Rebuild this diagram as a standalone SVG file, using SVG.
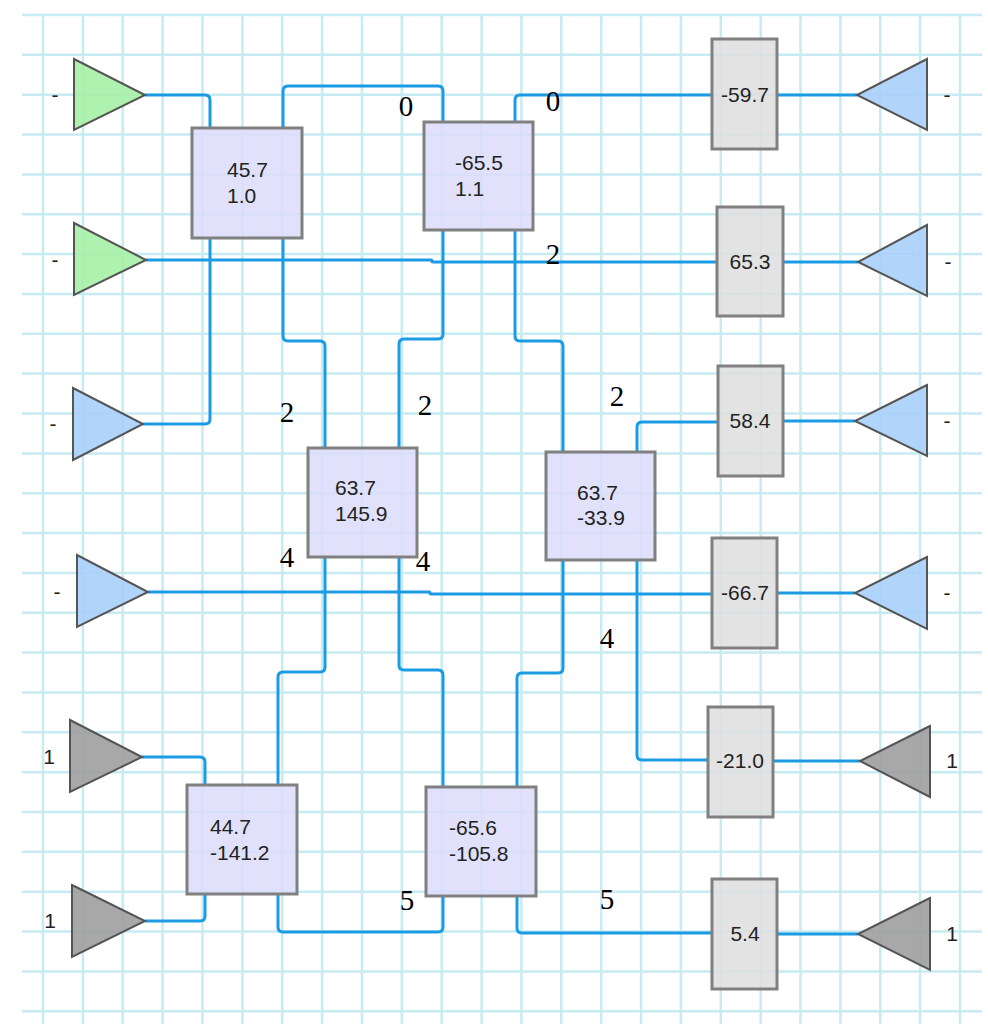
<svg xmlns="http://www.w3.org/2000/svg" width="988" height="1026" viewBox="0 0 988 1026">
<style>
.grid line{stroke:#c6ebf3;stroke-width:2.5}
.sq{fill:#dcdcfa;fill-opacity:0.85;stroke:#808080;stroke-width:3}
.rc{fill:#dedede;fill-opacity:0.85;stroke:#808080;stroke-width:3}
.tg{fill:#a6f0a6;fill-opacity:0.9;stroke:#555;stroke-width:2}
.tb{fill:#a8cffa;fill-opacity:0.9;stroke:#555;stroke-width:2}
.tr{fill:#9e9e9e;fill-opacity:0.9;stroke:#555;stroke-width:2}
.t{font-family:"Liberation Sans",Arial,sans-serif;font-size:21px;fill:#222}
.c{text-anchor:middle}
.el{font-family:"Liberation Serif","Times New Roman",serif;font-size:29px;fill:#000;text-anchor:middle}
#connectors path{fill:none;stroke:#1a9be3;stroke-width:3}
</style>
<rect width="988" height="1026" fill="#fff"/>
<g class="grid">
<line x1="43" y1="15" x2="43" y2="1024"/><line x1="82.9" y1="15" x2="82.9" y2="1024"/><line x1="122.7" y1="15" x2="122.7" y2="1024"/><line x1="162.6" y1="15" x2="162.6" y2="1024"/><line x1="202.5" y1="15" x2="202.5" y2="1024"/><line x1="242.4" y1="15" x2="242.4" y2="1024"/><line x1="282.2" y1="15" x2="282.2" y2="1024"/><line x1="322.1" y1="15" x2="322.1" y2="1024"/><line x1="362" y1="15" x2="362" y2="1024"/><line x1="401.8" y1="15" x2="401.8" y2="1024"/><line x1="441.7" y1="15" x2="441.7" y2="1024"/><line x1="481.6" y1="15" x2="481.6" y2="1024"/><line x1="521.4" y1="15" x2="521.4" y2="1024"/><line x1="561.3" y1="15" x2="561.3" y2="1024"/><line x1="601.2" y1="15" x2="601.2" y2="1024"/><line x1="641.1" y1="15" x2="641.1" y2="1024"/><line x1="680.9" y1="15" x2="680.9" y2="1024"/><line x1="720.8" y1="15" x2="720.8" y2="1024"/><line x1="760.7" y1="15" x2="760.7" y2="1024"/><line x1="800.5" y1="15" x2="800.5" y2="1024"/><line x1="840.4" y1="15" x2="840.4" y2="1024"/><line x1="880.3" y1="15" x2="880.3" y2="1024"/><line x1="920.1" y1="15" x2="920.1" y2="1024"/><line x1="960" y1="15" x2="960" y2="1024"/>
<line x1="22" y1="15" x2="982" y2="15"/><line x1="22" y1="54.8" x2="982" y2="54.8"/><line x1="22" y1="94.7" x2="982" y2="94.7"/><line x1="22" y1="134.5" x2="982" y2="134.5"/><line x1="22" y1="174.4" x2="982" y2="174.4"/><line x1="22" y1="214.2" x2="982" y2="214.2"/><line x1="22" y1="254.1" x2="982" y2="254.1"/><line x1="22" y1="294" x2="982" y2="294"/><line x1="22" y1="333.8" x2="982" y2="333.8"/><line x1="22" y1="373.6" x2="982" y2="373.6"/><line x1="22" y1="413.5" x2="982" y2="413.5"/><line x1="22" y1="453.4" x2="982" y2="453.4"/><line x1="22" y1="493.2" x2="982" y2="493.2"/><line x1="22" y1="533" x2="982" y2="533"/><line x1="22" y1="572.9" x2="982" y2="572.9"/><line x1="22" y1="612.8" x2="982" y2="612.8"/><line x1="22" y1="652.6" x2="982" y2="652.6"/><line x1="22" y1="692.4" x2="982" y2="692.4"/><line x1="22" y1="732.3" x2="982" y2="732.3"/><line x1="22" y1="772.2" x2="982" y2="772.2"/><line x1="22" y1="812" x2="982" y2="812"/><line x1="22" y1="851.8" x2="982" y2="851.8"/><line x1="22" y1="891.7" x2="982" y2="891.7"/><line x1="22" y1="931.6" x2="982" y2="931.6"/><line x1="22" y1="971.4" x2="982" y2="971.4"/><line x1="22" y1="1011.2" x2="982" y2="1011.2"/>
</g>
<g id="connectors">
<path d="M145,95 H205 Q210,95 210,100 V128"/>
<path d="M283,128 V91 Q283,86 288,86 H438 Q443,86 443,91 V122"/>
<path d="M515,122 V100 Q515,95 520,95 H712"/>
<path d="M777,95 H857"/>
<path d="M146,260 H431 Q432,260 432,261 Q432,262 433,262 H717"/>
<path d="M783,262 H858"/>
<path d="M210,238 V419 Q210,424 205,424 H143"/>
<path d="M283,238 V336 Q283,341 288,341 H320 Q325,341 325,346 V448"/>
<path d="M443,230 V334 Q443,339 438,339 H404 Q399,339 399,344 V448"/>
<path d="M515,230 V336 Q515,341 520,341 H558 Q563,341 563,346 V452"/>
<path d="M637,452 V427 Q637,422 642,422 H718"/>
<path d="M783,421 H855"/>
<path d="M148,592 H429 Q430,592 430,593 Q430,594 431,594 H712"/>
<path d="M777,593 H855"/>
<path d="M325,557 V667 Q325,672 320,672 H283 Q278,672 278,677 V785"/>
<path d="M399,557 V665 Q399,670 404,670 H438 Q443,670 443,675 V787"/>
<path d="M563,560 V668 Q563,673 558,673 H522 Q517,673 517,678 V787"/>
<path d="M637,560 V755 Q637,760 642,760 H708"/>
<path d="M773,761 H860"/>
<path d="M142,757 H200 Q205,757 205,762 V785"/>
<path d="M145,921 H200 Q205,921 205,916 V894"/>
<path d="M278,894 V927 Q278,932 283,932 H438 Q443,932 443,927 V896"/>
<path d="M517,896 V928 Q517,933 522,933 H712"/>
<path d="M777,934 H858"/>
</g>
<g id="in1"><polygon class="tg" points="74,59 145,95 74,130"/><text class="t c" x="55" y="102">-</text></g>
<g id="in2"><polygon class="tg" points="74,223 146,260 74,295"/><text class="t c" x="55" y="267">-</text></g>
<g id="in3"><polygon class="tb" points="73,388 143,424 73,460"/><text class="t c" x="53" y="431">-</text></g>
<g id="in4"><polygon class="tb" points="77,555 148,592 77,627"/><text class="t c" x="57" y="599">-</text></g>
<g id="in5"><polygon class="tr" points="70,720 142,757 70,792"/><text class="t c" x="49" y="764">1</text></g>
<g id="in6"><polygon class="tr" points="72,885 145,921 72,957"/><text class="t c" x="50" y="928">1</text></g>
<g id="out1"><polygon class="tb" points="927,59 857,95 927,130"/><text class="t c" x="947" y="102">-</text></g>
<g id="out2"><polygon class="tb" points="927,225 858,262 927,296"/><text class="t c" x="948" y="269">-</text></g>
<g id="out3"><polygon class="tb" points="927,385 855,421 927,456"/><text class="t c" x="947" y="428">-</text></g>
<g id="out4"><polygon class="tb" points="927,557 855,593 927,629"/><text class="t c" x="947" y="600">-</text></g>
<g id="out5"><polygon class="tr" points="930,726 860,761 930,797"/><text class="t c" x="952" y="768">1</text></g>
<g id="out6"><polygon class="tr" points="930,898 858,934 930,970"/><text class="t c" x="952" y="941">1</text></g>
<g id="r1"><rect class="rc" x="712" y="39" width="65" height="110"/><text class="t c" x="745" y="102">-59.7</text></g>
<g id="r2"><rect class="rc" x="717" y="207" width="66" height="109"/><text class="t c" x="750" y="269">65.3</text></g>
<g id="r3"><rect class="rc" x="718" y="366" width="65" height="110"/><text class="t c" x="750" y="428">58.4</text></g>
<g id="r4"><rect class="rc" x="712" y="538" width="65" height="110"/><text class="t c" x="745" y="600">-66.7</text></g>
<g id="r5"><rect class="rc" x="708" y="707" width="65" height="110"/><text class="t c" x="740" y="768">-21.0</text></g>
<g id="r6"><rect class="rc" x="712" y="879" width="65" height="110"/><text class="t c" x="745" y="941">5.4</text></g>
<g id="sA"><rect class="sq" x="192" y="128" width="110" height="110"/><text class="t" x="227" y="177">45.7</text><text class="t" x="227" y="203">1.0</text></g>
<g id="sB"><rect class="sq" x="424" y="122" width="109" height="108"/><text class="t" x="455" y="170">-65.5</text><text class="t" x="455" y="196">1.1</text></g>
<g id="sC"><rect class="sq" x="308" y="448" width="109" height="109"/><text class="t" x="335" y="495">63.7</text><text class="t" x="335" y="521">145.9</text></g>
<g id="sD"><rect class="sq" x="546" y="452" width="109" height="108"/><text class="t" x="577" y="500">63.7</text><text class="t" x="577" y="525">-33.9</text></g>
<g id="sE"><rect class="sq" x="187" y="785" width="110" height="109"/><text class="t" x="210" y="834">44.7</text><text class="t" x="210" y="860">-141.2</text></g>
<g id="sF"><rect class="sq" x="426" y="787" width="110" height="109"/><text class="t" x="449" y="835">-65.6</text><text class="t" x="449" y="861">-105.8</text></g>
<g id="edge-labels">
<text class="el" x="406" y="116">0</text>
<text class="el" x="553" y="111">0</text>
<text class="el" x="553" y="264">2</text>
<text class="el" x="287" y="422">2</text>
<text class="el" x="425" y="415">2</text>
<text class="el" x="617" y="406">2</text>
<text class="el" x="287" y="567">4</text>
<text class="el" x="423" y="571">4</text>
<text class="el" x="607" y="648">4</text>
<text class="el" x="407" y="910">5</text>
<text class="el" x="607" y="909">5</text>
</g>
</svg>
